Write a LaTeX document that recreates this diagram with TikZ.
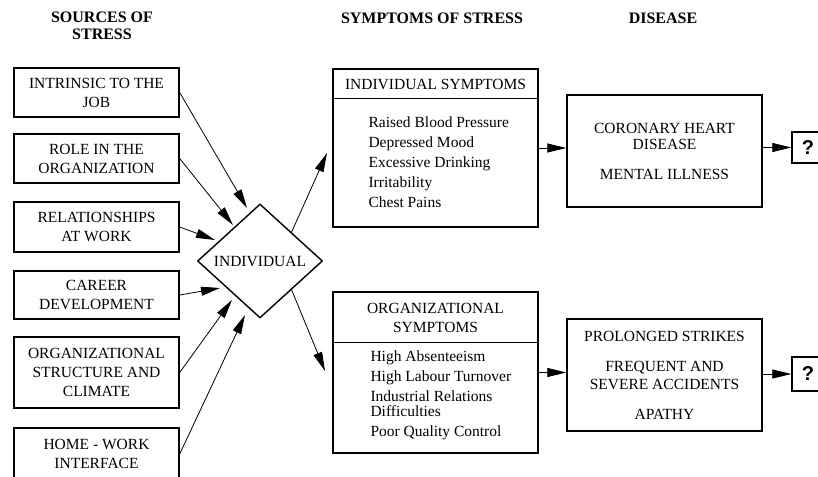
\documentclass[tikz,border=0pt]{standalone}
\usepackage{fontspec}
\setmainfont{Liberation Serif}
\newfontfamily\qfont{Liberation Sans}
\usetikzlibrary{arrows.meta,shapes.geometric,calc}

\begin{document}
\begin{tikzpicture}[x=1pt,y=-1pt,
  txt/.style={font=\fontsize{15.5}{19}\selectfont},
  box/.style={draw,line width=1.4pt,align=center,inner sep=0pt,txt},
  srcbox/.style={box,minimum width=165pt},
  head/.style={font=\bfseries\fontsize{16}{17}\selectfont,align=center},
  conn/.style={line width=0.8pt,-{Triangle[length=19pt,width=9pt]}},
  qbox/.style={draw,line width=1.4pt,minimum width=32pt,inner sep=0pt,
    font=\qfont\bfseries\fontsize{20}{20}\selectfont}]
\useasboundingbox (0,0) rectangle (818,476);

% column headings
\node[head] (h1) at (102,26) {SOURCES OF\\STRESS};
\node[head] (h2) at (432,18) {SYMPTOMS OF STRESS};
\node[head] (h3) at (663,18) {DISEASE};

% sources of stress
\node[srcbox,minimum height=49pt] (s1) at (96.5,92.5) {INTRINSIC TO THE\\JOB};
\node[srcbox,minimum height=49pt] (s2) at (96.5,158.5) {ROLE IN THE\\ORGANIZATION};
\node[srcbox,minimum height=50pt] (s3) at (96.5,227) {RELATIONSHIPS\\AT WORK};
\node[srcbox,minimum height=48pt] (s4) at (96.5,295) {CAREER\\DEVELOPMENT};
\node[srcbox,minimum height=71pt] (s5) at (96.5,372.5) {ORGANIZATIONAL\\STRUCTURE AND\\CLIMATE};
\node[srcbox,minimum height=52pt] (s6) at (96.5,454) {HOME - WORK\\INTERFACE};

% the individual
\node[draw,diamond,line width=1.4pt,inner sep=0pt,minimum width=125pt,
  minimum height=114pt,txt] (ind) at (260,261) {INDIVIDUAL};

% arrow ends around the diamond
\coordinate (t1) at (247,208);
\coordinate (t2) at (233,225);
\coordinate (t3) at (215,240);
\coordinate (t4) at (220,288);
\coordinate (t5) at (232,300);
\coordinate (t6) at (245,315);
\coordinate (u1) at (327,153);
\coordinate (u2) at (325,371);

\draw[conn] (s1.east) -- (t1);
\draw[conn] (s2.east) -- (t2);
\draw[conn] (s3.east) -- (t3);
\draw[conn] (s4.east) -- (t4);
\draw[conn] (s5.east) -- (t5);
\draw[conn] (s6.east) -- (t6);

% symptoms of stress
\node[box,minimum width=205pt,minimum height=158pt] (is) at (435.5,148) {};
\draw[line width=0.6pt] ([yshift=-30pt]is.north west) -- ([yshift=-30pt]is.north east);
\node[txt] (ish) at (435.5,84) {INDIVIDUAL SYMPTOMS};
\node[txt,align=left,anchor=west,font=\fontsize{15.5}{15}\selectfont] (isl) at (365,162)
  {Raised Blood Pressure\\[5pt]Depressed Mood\\[5pt]Excessive Drinking\\[5pt]Irritability\\[5pt]Chest Pains};

\node[box,minimum width=205pt,minimum height=161pt] (os) at (435.5,372.5) {};
\draw[line width=0.6pt] ([yshift=-51pt]os.north west) -- ([yshift=-51pt]os.north east);
\node[txt,align=center] (osh) at (435.5,317.5) {ORGANIZATIONAL\\SYMPTOMS};
\node[txt,align=left,anchor=west,font=\fontsize{15.5}{15}\selectfont] (osl) at (367,395.5)
  {High Absenteeism\\[5pt]High Labour Turnover\\[5pt]Industrial Relations\\Difficulties\\[5pt]Poor Quality Control};

\draw[conn] ($(ind.north)!0.5!(ind.east)$) -- (u1);
\draw[conn] ($(ind.south)!0.5!(ind.east)$) -- (u2);

% disease
\node[box,minimum width=195pt,minimum height=112pt,font=\fontsize{15.5}{16}\selectfont] (d1) at (664.5,151)
  {CORONARY HEART\\DISEASE\\[14pt]MENTAL ILLNESS};
\node[box,minimum width=195pt,minimum height=112pt,font=\fontsize{15.5}{18}\selectfont] (d2) at (664.5,375)
  {PROLONGED STRIKES\\[12pt]FREQUENT AND\\SEVERE ACCIDENTS\\[12pt]APATHY};

\draw[conn] (is.east) -- (is.east -| d1.west);
\draw[conn] (os.east) -- (os.east -| d2.west);

% outcome unknown
\node[qbox,minimum height=31pt] (q1) at (808,147.5) {?};
\node[qbox,minimum height=34pt] (q2) at (808,374) {?};
\draw[conn] (d1.east |- q1) -- (q1.west);
\draw[conn] (d2.east |- q2) -- (q2.west);
\end{tikzpicture}
\end{document}
